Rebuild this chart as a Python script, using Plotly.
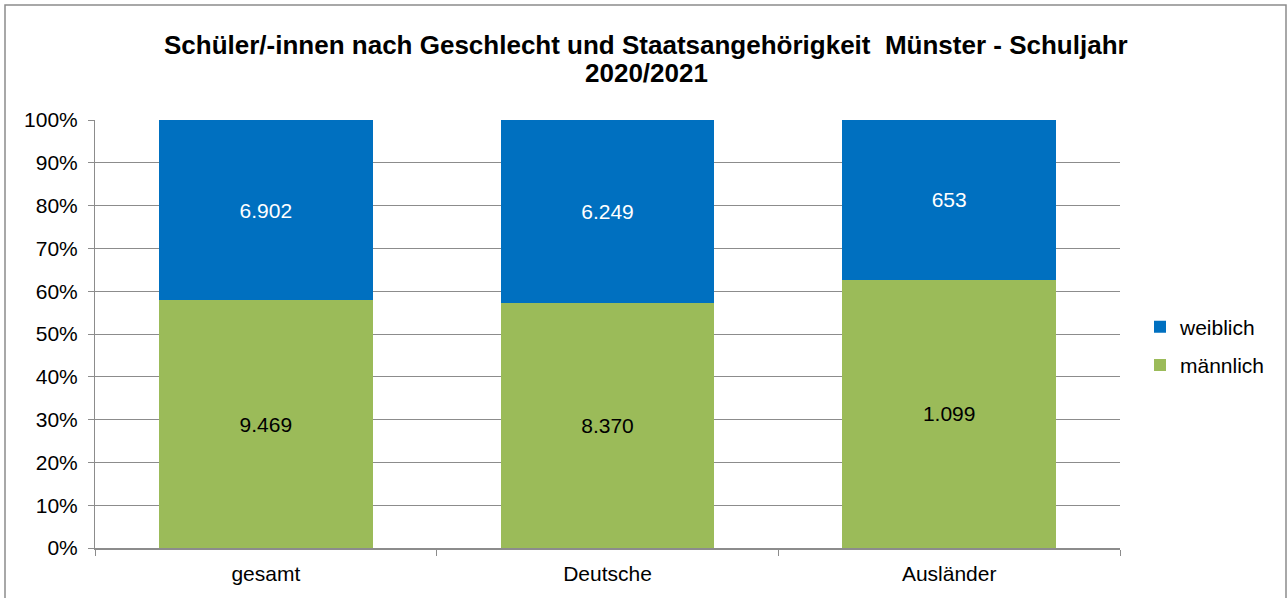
import plotly.graph_objects as go

categories = ["gesamt", "Deutsche", "Ausländer"]
maennlich = [9469, 8370, 1099]
weiblich = [6902, 6249, 653]
series_names = ["männlich", "weiblich"]
y_ticks = [0, 10, 20, 30, 40, 50, 60, 70, 80, 90, 100]
title_lines = ["Schüler/-innen nach Geschlecht und Staatsangehörigkeit  Münster - Schuljahr", "2020/2021"]

def de(n):
    return f"{n:,}".replace(",", ".")

W, H = 1288, 598
L, R, T, B = 95, 1288 - 1120, 120, 50
pw, ph = W - L - R, H - T - B
x_of = lambda px: (px - L) / pw
y_of = lambda py: (H - B - py) / ph

fig = go.Figure()
fig.add_trace(go.Bar(
    x=categories, y=maennlich, name=series_names[0],
    marker=dict(color="#9BBB59", line=dict(width=0)),
    text=[de(v) for v in maennlich], textposition="inside",
    insidetextanchor="middle", textfont=dict(color="black", size=21),
    legendgroup="m", legendrank=2,
))
fig.add_trace(go.Bar(
    x=categories, y=weiblich, name=series_names[1],
    marker=dict(color="#0070C0", line=dict(width=0)),
    text=[de(v) for v in weiblich], textposition="inside",
    insidetextanchor="middle", textfont=dict(color="white", size=21),
    legendgroup="w", legendrank=1,
))

fig.update_layout(
    width=W, height=H,
    barmode="stack", barnorm="percent", bargap=0.375,
    margin=dict(l=L, r=R, t=T, b=B, autoexpand=False),
    paper_bgcolor="white", plot_bgcolor="white",
    font=dict(family="Liberation Sans, Arial, sans-serif", size=21, color="black"),
    legend=dict(
        x=x_of(1140), xanchor="left", y=y_of(346), yanchor="middle",
        font=dict(size=21), tracegroupgap=8, itemwidth=30,
        bgcolor="rgba(0,0,0,0)",
    ),
)
for line, py in zip(title_lines, [45, 73]):
    fig.add_annotation(
        text=f"<b>{line}</b>", xref="paper", yref="paper",
        x=x_of(646), y=y_of(py), xanchor="center", yanchor="middle",
        showarrow=False, font=dict(size=26, color="black"),
    )
fig.update_yaxes(
    range=[0, 100], tickmode="array", tickvals=y_ticks,
    ticktext=[f"{v}%" for v in y_ticks],
    showgrid=True, gridcolor="#8c8c8c", gridwidth=1,
    showline=True, linecolor="#8c8c8c", linewidth=1,
    ticks="outside", ticklen=6, tickcolor="#8c8c8c",
    ticklabelstandoff=6, zeroline=False, fixedrange=True,
)
fig.update_xaxes(
    showline=True, linecolor="#8c8c8c", linewidth=1.5,
    ticks="outside", ticklen=6, tickcolor="#8c8c8c", tickson="boundaries",
    ticklabelstandoff=6, fixedrange=True,
)
fig.add_shape(
    type="rect", xref="paper", yref="paper",
    x0=x_of(5), x1=x_of(1286),
    y0=y_of(600), y1=y_of(5),
    line=dict(color="#8c8c8c", width=1.5), fillcolor="rgba(0,0,0,0)", layer="below",
)

fig.write_html("out.html", config={"displayModeBar": False},
               post_script="document.body.style.margin='0';")
